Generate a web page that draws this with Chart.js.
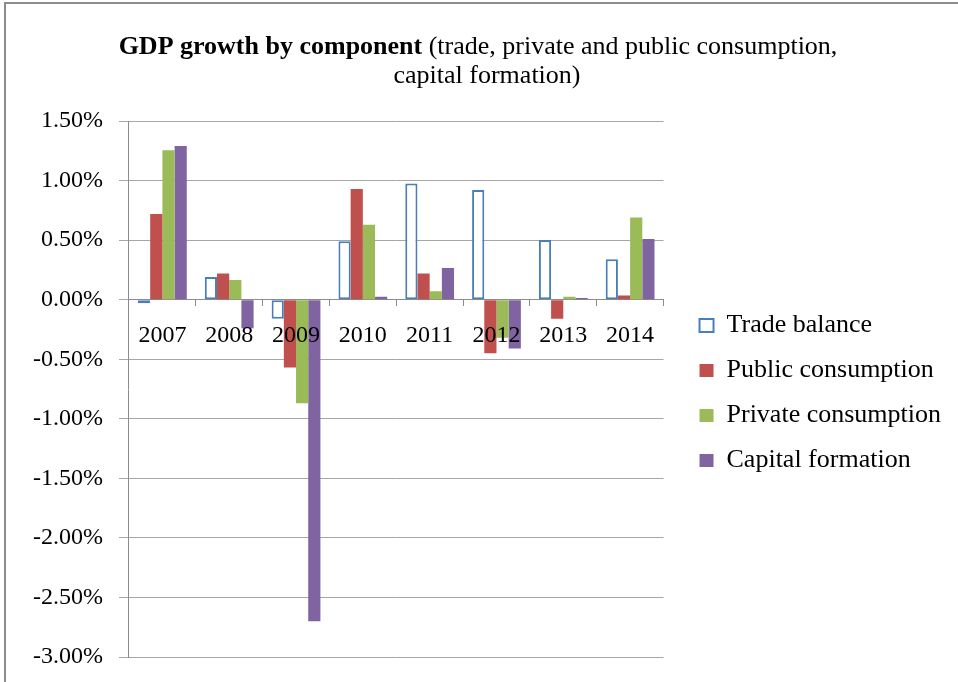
<!DOCTYPE html>
<html>
<head>
<meta charset="utf-8">
<script src="https://cdn.jsdelivr.net/npm/chart.js@4"></script>
<style>
  html, body { margin: 0; padding: 0; background: #fff; }
  #wrap { position: relative; width: 958px; height: 682px; overflow: hidden; }
  #frame { position: absolute; left: 4px; top: 2px; width: 1000px; height: 1000px; border-left: 2px solid #8c8c8c; border-top: 2px solid #8c8c8c; box-sizing: border-box; pointer-events: none; }
  canvas { position: absolute; left: 0; top: 0; }
</style>
</head>
<body>
<div id="wrap">
  <canvas id="c" width="958" height="682"></canvas>
  <div id="frame"></div>
</div>
<script>
const years = ['2007', '2008', '2009', '2010', '2011', '2012', '2013', '2014'];
const tradeBalance = [-0.03, 0.19, -0.16, 0.49, 0.975, 0.92, 0.50, 0.34];
const publicConsumption = [0.72, 0.22, -0.57, 0.93, 0.22, -0.45, -0.16, 0.035];
const privateConsumption = [1.255, 0.165, -0.87, 0.63, 0.07, -0.32, 0.025, 0.69];
const capitalFormation = [1.29, -0.24, -2.70, 0.025, 0.265, -0.41, 0.015, 0.51];
const yTicks = { min: -3.0, max: 1.5, step: 0.5 };
const titleBold = 'GDP growth by component';
const titleRest = ' (trade, private and public consumption,';
const titleLine2 = 'capital formation)';

const FONT = "'Liberation Serif', 'Times New Roman', serif";

const titlePlugin = {
  id: 'mixedTitle',
  afterDraw(chart) {
    const ctx = chart.ctx;
    ctx.save();
    ctx.fillStyle = '#000';
    ctx.textBaseline = 'alphabetic';
    ctx.font = 'bold 26px ' + FONT;
    const wB = ctx.measureText(titleBold).width;
    ctx.font = '26px ' + FONT;
    const wR = ctx.measureText(titleRest).width;
    const x = 478 - (wB + wR) / 2;
    ctx.textAlign = 'left';
    ctx.font = 'bold 26px ' + FONT;
    ctx.fillText(titleBold, x, 54);
    ctx.font = '26px ' + FONT;
    ctx.fillText(titleRest, x + wB, 54);
    ctx.textAlign = 'center';
    ctx.fillText(titleLine2, 487, 83);
    ctx.restore();
  }
};

new Chart(document.getElementById('c'), {
  type: 'bar',
  data: {
    labels: years,
    datasets: [
      { label: 'Trade balance', data: tradeBalance, backgroundColor: '#ffffff', borderColor: '#4a7ebb', borderWidth: 2, borderSkipped: false },
      { label: 'Public consumption', data: publicConsumption, backgroundColor: '#c0504d', borderWidth: 0 },
      { label: 'Private consumption', data: privateConsumption, backgroundColor: '#9bbb59', borderWidth: 0 },
      { label: 'Capital formation', data: capitalFormation, backgroundColor: '#8064a2', borderWidth: 0 }
    ]
  },
  options: {
    responsive: false,
    animation: false,
    devicePixelRatio: 1,
    categoryPercentage: 0.73,
    barPercentage: 1.0,
    layout: { padding: { top: 121, right: 7, left: 17, bottom: 25 } },
    plugins: {
      title: { display: false },
      tooltip: { enabled: false },
      legend: {
        position: 'right',
        maxWidth: 320,
        title: { display: true, text: '', font: { size: 1, lineHeight: 1 }, padding: { top: 3, bottom: 4 } },
        labels: {
          font: { family: FONT, size: 26, lineHeight: 1.2 },
          color: '#000',
          boxWidth: 14,
          boxHeight: 13,
          padding: 19
        }
      }
    },
    scales: {
      x: {
        position: { y: 0 },
        afterFit(scale) { scale.height = 0; },
        grid: { display: true, offset: true, drawOnChartArea: false, drawTicks: true, tickLength: 6, color: '#8c8c8c' },
        border: { display: true, color: '#8c8c8c', width: 1 },
        ticks: { z: 1, font: { family: FONT, size: 24 }, color: '#000', padding: 16, maxRotation: 0, autoSkip: false }
      },
      y: {
        min: yTicks.min,
        max: yTicks.max,
        afterFit(scale) { scale.paddingTop = 0; scale.paddingBottom = 0; },
        ticks: {
          stepSize: yTicks.step,
          font: { family: FONT, size: 24 },
          color: '#000',
          padding: 16,
          callback: v => v.toFixed(2) + '%'
        },
        grid: { color: '#a6a6a6', lineWidth: 1, tickLength: 10 },
        border: { display: true, color: '#8c8c8c', width: 1 }
      },
      gap: {
        type: 'linear',
        position: 'right',
        display: true,
        min: 0,
        max: 1,
        grid: { display: false, drawOnChartArea: false },
        border: { display: false },
        ticks: { display: false },
        afterFit(scale) { scale.width = 17; scale.paddingTop = 0; scale.paddingBottom = 0; }
      }
    }
  },
  plugins: [titlePlugin]
});
</script>
</body>
</html>
